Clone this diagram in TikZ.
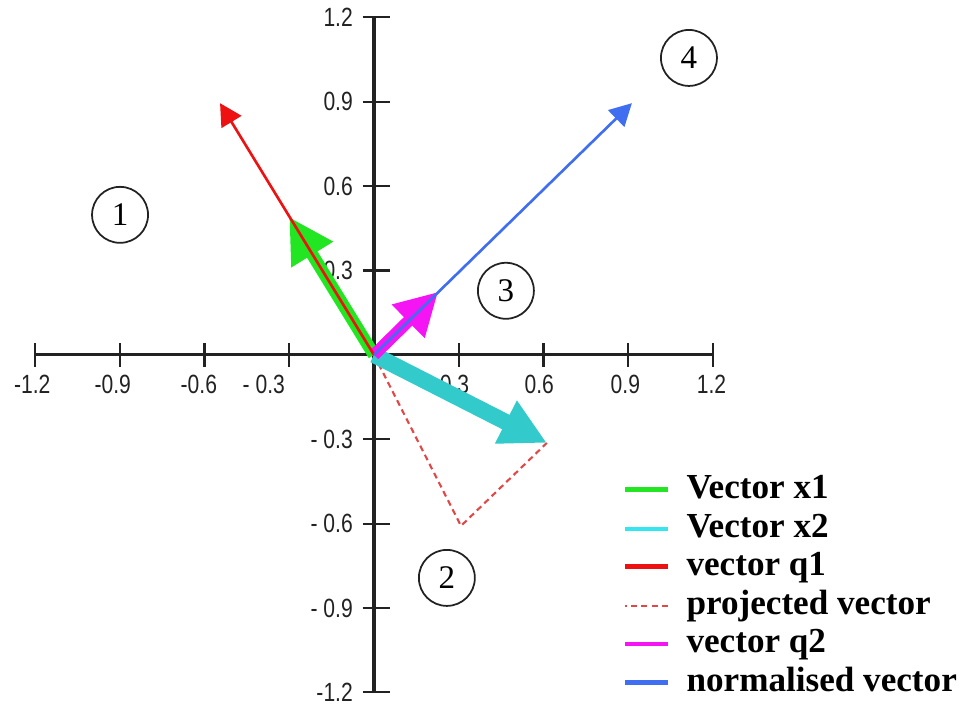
\documentclass[tikz,border=0pt]{standalone}
\usepackage{fontspec}
\setmainfont{Liberation Serif}
\newfontfamily\axisfont{Liberation Sans}[FakeStretch=0.8]
\usetikzlibrary{arrows.meta}
\definecolor{vgreen}{HTML}{22E622}
\definecolor{vcyan}{HTML}{33CACC}
\definecolor{vred}{HTML}{EE1111}
\definecolor{vmag}{HTML}{F414F4}
\definecolor{vblue}{HTML}{3F6FF0}
\definecolor{pred}{HTML}{E04848}
\definecolor{lcyan}{HTML}{33E6F0}
\definecolor{axgray}{HTML}{222222}
\tikzset{
  axis/.style={line width=0.9pt,color=axgray},
  tickmark/.style={line width=0.6pt,color=axgray},
  ticklbl/.style={font=\axisfont\fontsize{7.5}{8}\selectfont,inner sep=1pt,
                  text=axgray},
  region/.style={circle,draw=axgray,line width=0.5pt,minimum size=0.56cm,
                 inner sep=0pt,font=\fontsize{9.4}{10}\selectfont},
  fat/.style={line width=#1},
  thin/.style={line width=0.75pt,
               -{Triangle[length=0.22cm,width=0.23cm]}},
  vx1/.style={fat=3.5pt,color=vgreen,
              -{Triangle[length=0.44cm,width=0.46cm]}},
  vx2/.style={fat=4.6pt,color=vcyan,
              -{Triangle[length=0.46cm,width=0.45cm]}},
  vq2/.style={fat=3.4pt,color=vmag,
              -{Triangle[length=0.42cm,width=0.44cm]}},
  vq1/.style={thin,color=vred},
  vnorm/.style={thin,color=vblue},
  proj/.style={line width=0.6pt,color=pred,dash pattern=on 1.7pt off 1.2pt},
  legtxt/.style={anchor=west,inner sep=0pt,text height=0.7em,text depth=0.2em,
                 font=\bfseries\fontsize{10}{12}\selectfont},
  legln/.style={line width=1.4pt,color=#1},
}

\begin{document}
\begin{tikzpicture}[x=2.825cm,y=2.8125cm]
  \useasboundingbox (-1.324,-1.305) rectangle (2.110,1.262);

  %% ── axes ─────────────────────────────────────────────────────────────────
  \coordinate (O)  at (0,0);
  \coordinate (xl) at (-1.2,0);
  \coordinate (xr) at (1.2,0);
  \coordinate (yb) at (0,-1.2);
  \coordinate (yt) at (0,1.2);
  \draw[axis] (xl) -- (xr);
  \draw[axis] (yb) -- (yt);

  \foreach \v/\t/\s [count=\i] in {-1.2/{-1.2}/-0.01,-0.9/{-0.9}/-0.025,
      -0.6/{-0.6}/-0.02,-0.3/{- 0.3}/-0.09,0.3/{0.3}/-0.015,
      0.6/{0.6}/-0.015,0.9/{0.9}/-0.01,1.2/{1.2}/-0.005}{
    \draw[tickmark] (\v,0.042) -- (\v,-0.042);
    \node[ticklbl,anchor=north] (xt\i) at (\v+\s,-0.058) {\t};
  }
  \foreach \v/\t [count=\i] in {1.2/{1.2},0.9/{0.9},0.6/{0.6},0.3/{0.3},
      -0.3/{- 0.3},-0.6/{- 0.6},-0.9/{- 0.9},-1.2/{-1.2}}{
    \draw[tickmark] (-0.04,\v) -- (0.057,\v);
    \node[ticklbl,anchor=east] (yt\i) at (-0.06,\v) {\t};
  }

  %% ── regions ──────────────────────────────────────────────────────────────
  \node[region] (r1) at (-0.899,0.498) {1};
  \node[region] (r2) at (0.258,-0.793) {2};
  \node[region] (r3) at (0.467,0.228)  {3};
  \node[region] (r4) at (1.115,1.056)  {4};

  %% ── vectors ──────────────────────────────────────────────────────────────
  \coordinate (x1) at (-0.3,0.49);
  \coordinate (x2) at (0.612,-0.313);
  \coordinate (q1) at (-0.545,0.895);
  \coordinate (q2) at (0.227,0.224);
  \coordinate (nv) at (0.913,0.895);
  \coordinate (pj) at (0.308,-0.608);

  \draw[vx1]  (O) -- (x1);
  \draw[proj] (O) -- (pj) -- (x2);
  \draw[vx2]  (O) -- (x2);
  \draw[vq2]  (O) -- (q2);
  \draw[vq1]  (O) -- (q1);
  \draw[vnorm] (O) -- (nv);

  %% ── legend ───────────────────────────────────────────────────────────────
  \node[legtxt] (l1) at (1.104,-0.480) {Vector x1};
  \node[legtxt] (l2) at (1.104,-0.619) {Vector x2};
  \node[legtxt] (l3) at (1.104,-0.754) {vector q1};
  \node[legtxt] (l4) at (1.104,-0.892) {projected vector};
  \node[legtxt] (l5) at (1.104,-1.028) {vector q2};
  \node[legtxt] (l6) at (1.104,-1.166) {normalised vector};

  \draw[legln=vgreen] ([xshift=-0.18cm]l1.west) -- ++(-0.43cm,0);
  \draw[legln=lcyan]  ([xshift=-0.18cm]l2.west) -- ++(-0.43cm,0);
  \draw[legln=vred]   ([xshift=-0.18cm]l3.west) -- ++(-0.43cm,0);
  \draw[proj]         ([xshift=-0.18cm]l4.west) -- ++(-0.43cm,0);
  \draw[legln=vmag]   ([xshift=-0.18cm]l5.west) -- ++(-0.43cm,0);
  \draw[legln=vblue]  ([xshift=-0.18cm]l6.west) -- ++(-0.43cm,0);

\end{tikzpicture}
\end{document}
